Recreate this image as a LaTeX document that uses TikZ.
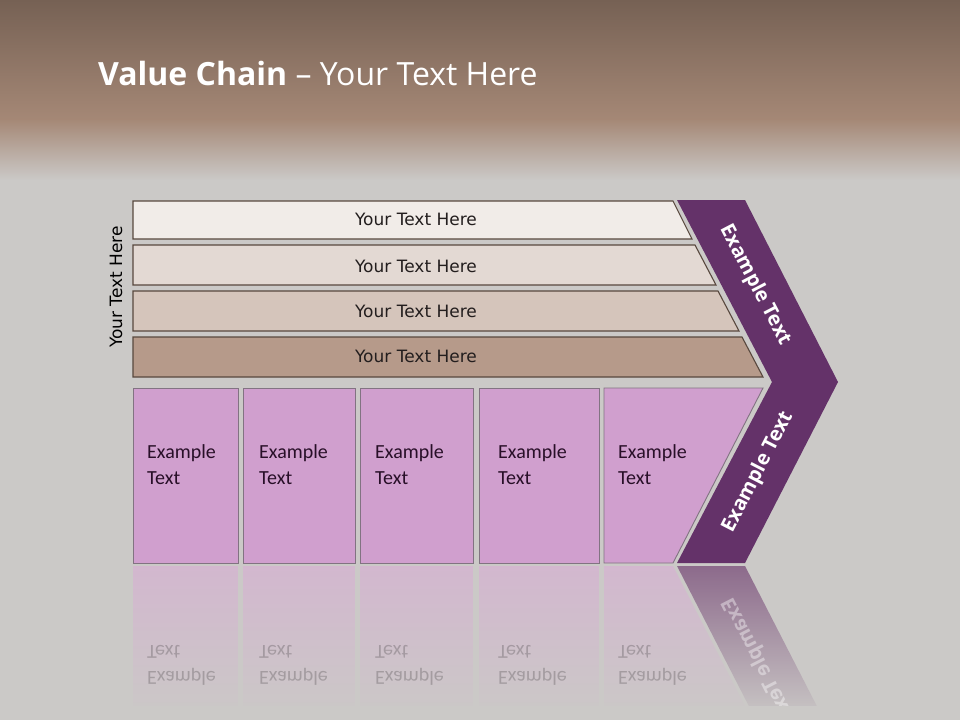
\documentclass[tikz,border=0pt]{standalone}
\usepackage{fontspec}
\setmainfont{DejaVu Sans}
\newfontfamily\titlefont{Open Sans}
\newfontfamily\boxfont{Carlito}
\usetikzlibrary{fadings}
\definecolor{bg}{RGB}{203,201,199}
\definecolor{topA}{RGB}{118,97,84}
\definecolor{topB}{RGB}{165,136,118}
\definecolor{rowA}{RGB}{241,236,232}
\definecolor{rowB}{RGB}{227,217,211}
\definecolor{rowC}{RGB}{213,197,187}
\definecolor{rowD}{RGB}{182,154,138}
\definecolor{rowline}{RGB}{88,72,62}
\definecolor{boxfill}{RGB}{208,159,206}
\definecolor{boxline}{RGB}{130,115,130}
\definecolor{chev}{RGB}{100,50,105}
\definecolor{txtdark}{RGB}{35,30,30}
\definecolor{boxtxt}{RGB}{40,15,40}
\definecolor{reflbox}{RGB}{214,178,210}
\definecolor{reflchev}{RGB}{120,75,120}
\tikzfading[name=reflfade, top color=transparent!25, bottom color=transparent!100]
\tikzset{
  rowshape/.style={draw=rowline, line width=1.1pt},
  rowtext/.style={font=\fontsize{17}{20}\selectfont, text=txtdark},
  boxshape/.style={draw=boxline, line width=0.9pt, fill=boxfill},
  boxtext/.style={font=\boxfont\fontsize{20}{26}\selectfont, text=boxtxt, align=left, anchor=west, inner sep=0pt},
  chevtext/.style={font=\titlefont\bfseries\fontsize{20}{24}\selectfont, text=white},
  reflshape/.style={fill=reflbox, path fading=reflfade, fit fading=true},
  refltext/.style={font=\boxfont\fontsize{20}{26}\selectfont, text=black, opacity=0.2, align=left, anchor=west, inner sep=0pt, yscale=-1},
}
\begin{document}
\begin{tikzpicture}[x=1pt,y=-1pt]
\useasboundingbox (0,0) rectangle (960,720);
% background
\fill[bg] (0,0) rectangle (960,720);
\shade[top color=topA, bottom color=topB] (0,0) rectangle (960,120);
\shade[top color=topB, bottom color=bg] (0,119.5) rectangle (960,180);
% title
\node[anchor=base west, inner sep=0, text=white, font=\titlefont\fontsize{32}{38}\selectfont] (title) at (98,85) {\bfseries Value Chain\mdseries{} – Your Text Here};
% side label
\node[rotate=90, rowtext, text=black] (side) at (116,287) {Your Text Here};
% rows
\draw[rowshape, fill=rowA] (133,201) -- (673,201) -- (692,239) -- (133,239) -- cycle;
\draw[rowshape, fill=rowB] (133,245) -- (695,245) -- (716,285) -- (133,285) -- cycle;
\draw[rowshape, fill=rowC] (133,291) -- (718,291) -- (739,331) -- (133,331) -- cycle;
\draw[rowshape, fill=rowD] (133,337) -- (742,337) -- (763,377) -- (133,377) -- cycle;
\node[rowtext] (r1) at (416,219) {Your Text Here};
\node[rowtext] (r2) at (416,266) {Your Text Here};
\node[rowtext] (r3) at (416,311) {Your Text Here};
\node[rowtext] (r4) at (416,356) {Your Text Here};
% reflections
\begin{scope}
\clip (0,566) rectangle (960,705);
\fill[reflshape] (133,566) rectangle (238,720);
\fill[reflshape] (243,566) rectangle (355,720);
\fill[reflshape] (360,566) rectangle (473,720);
\fill[reflshape] (479,566) rectangle (599,720);
\fill[reflshape] (604,566) -- (673,566) -- (752,720) -- (604,720) -- cycle;
\fill[fill=reflchev, path fading=reflfade] (677,566) -- (745,566) -- (824,720) -- (756,720) -- cycle;
\node[refltext] (f1) at (147,665) {Example\\Text};
\node[refltext] (f2) at (259,665) {Example\\Text};
\node[refltext] (f3) at (375,665) {Example\\Text};
\node[refltext] (f4) at (498,665) {Example\\Text};
\node[refltext] (f5) at (618,665) {Example\\Text};
\node[chevtext, opacity=0.4, rotate=-62.8, yscale=-1] (fc) at (758,658) {Example Text};
\end{scope}
% boxes
\draw[boxshape] (133,388) rectangle (238,563);
\draw[boxshape] (243,388) rectangle (355,563);
\draw[boxshape] (360,388) rectangle (473,563);
\draw[boxshape] (479,388) rectangle (599,563);
\draw[boxshape] (604,388) -- (763,388) -- (673,563) -- (604,563) -- cycle;
\node[boxtext] (b1) at (147,465) {Example\\Text};
\node[boxtext] (b2) at (259,465) {Example\\Text};
\node[boxtext] (b3) at (375,465) {Example\\Text};
\node[boxtext] (b4) at (498,465) {Example\\Text};
\node[boxtext] (b5) at (618,465) {Example\\Text};
% chevron
\fill[chev] (677,200) -- (745,200) -- (838,382) -- (745,563) -- (677,563) -- (772,382) -- cycle;
\node[chevtext, rotate=-62.4] (c1) at (755,285) {Example Text};
\node[chevtext, rotate=62.8] (c2) at (758,472) {Example Text};
\end{tikzpicture}
\end{document}
